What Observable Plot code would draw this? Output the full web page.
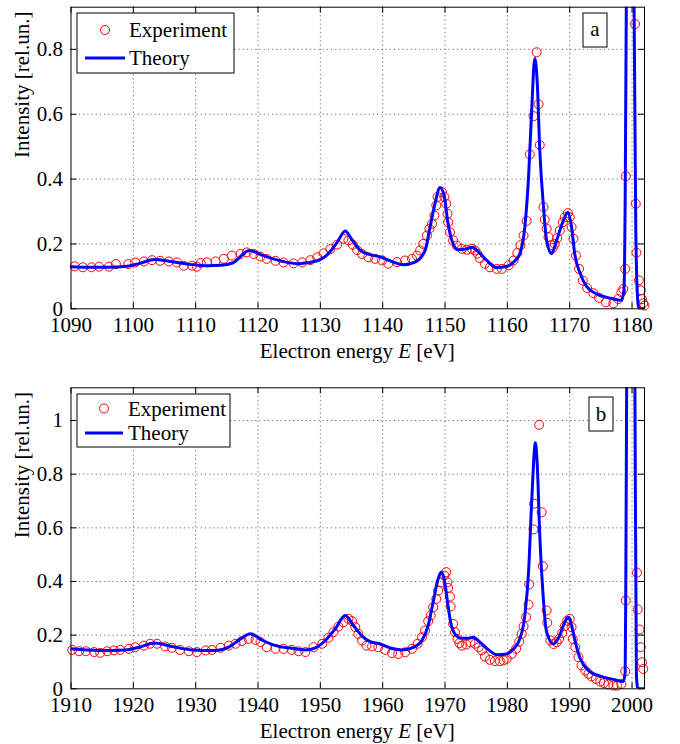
<!DOCTYPE html>
<html>
<head>
<meta charset="utf-8">
<script src="https://cdn.jsdelivr.net/npm/d3@7"></script>
<script src="https://cdn.jsdelivr.net/npm/@observablehq/plot@0.6"></script>
<style>
  body { margin: 0; background: #fff; }
  #chart svg { display: block; }
  #chart svg, #chart svg text, #chart svg tspan { font-family: "Liberation Serif", "DejaVu Serif", serif !important; }
</style>
</head>
<body>
<div id="chart"></div>
<script>
// ---------------- Panel a data ----------------
const aTheoryE = [1090, 1093, 1096, 1099, 1101, 1103.4, 1106, 1109, 1112, 1114, 1116, 1118.6, 1121, 1124, 1126.5, 1129.5, 1131.3, 1132.7, 1134, 1135, 1136.4, 1138, 1139.6, 1141.7, 1143.3, 1145.2, 1146.8, 1147.6, 1148.4, 1149.2, 1149.9, 1150.4, 1151.1, 1152.1, 1153.5, 1154.3, 1155.4, 1156.7, 1158.3, 1159.9, 1161, 1162, 1162.8, 1163.4, 1163.9, 1164.4, 1164.8, 1165.2, 1165.8, 1166.3, 1167.1, 1167.9, 1169, 1169.7, 1170.3, 1170.8, 1171.7, 1172.7, 1174.3, 1176.5, 1178.3, 1178.7, 1178.9, 1179.1, 1179.7, 1180.3, 1180.6, 1180.9, 1181.1, 1182];
const aTheoryI = [0.130, 0.128, 0.128, 0.131, 0.140, 0.152, 0.146, 0.137, 0.133, 0.134, 0.142, 0.180, 0.163, 0.146, 0.139, 0.148, 0.170, 0.205, 0.240, 0.215, 0.180, 0.167, 0.160, 0.144, 0.136, 0.144, 0.180, 0.252, 0.325, 0.374, 0.345, 0.273, 0.211, 0.182, 0.185, 0.190, 0.175, 0.149, 0.127, 0.131, 0.144, 0.170, 0.252, 0.406, 0.612, 0.772, 0.695, 0.489, 0.314, 0.211, 0.170, 0.211, 0.273, 0.298, 0.252, 0.170, 0.108, 0.069, 0.046, 0.033, 0.026, 0.057, 0.335, 1.0, 4.0, 1.0, 0.25, 0.03, 0.0, 0.0];

const aExpE = [1090.6, 1091.9, 1093.3, 1094.5, 1096.1, 1097.2, 1099.2, 1100.3, 1101.7, 1103.0, 1104.3, 1105.7, 1107.0, 1108.1, 1109.4, 1110.2, 1110.8, 1111.8, 1113.2, 1114.5, 1115.8, 1117.2, 1118.2, 1119.3, 1120.4, 1121.4, 1122.8, 1124.1, 1125.7, 1127.1, 1128.4, 1129.5, 1130.5, 1131.6, 1132.7, 1133.7, 1134.5, 1135.2, 1135.9, 1136.7, 1137.7, 1138.8, 1139.9, 1140.9, 1142.3, 1143.6, 1144.7, 1145.5, 1146.0, 1146.5, 1147.1, 1147.5, 1147.9, 1148.3, 1148.6, 1148.8, 1149.5, 1149.9, 1150.2, 1150.4, 1150.5, 1150.8, 1151.3, 1151.9, 1152.7, 1153.5, 1154.3, 1154.8, 1155.2, 1155.6, 1156.4, 1157.2, 1158.3, 1159.1, 1160.2, 1161.0, 1161.6, 1162.1, 1162.6, 1163.1, 1163.6, 1164.2, 1164.7, 1165.0, 1165.2, 1165.8, 1166.0, 1166.3, 1166.6, 1167.0, 1167.3, 1167.6, 1168.0, 1168.4, 1168.9, 1169.2, 1169.7, 1170.0, 1170.3, 1170.6, 1171.0, 1171.5, 1172.1, 1172.8, 1173.8, 1174.7, 1175.8, 1177.0, 1177.8, 1178.3, 1178.6, 1178.9, 1179.0, 1180.5, 1180.6, 1180.7, 1181.1, 1181.4, 1181.6, 1181.8, 1182.0];
const aExpI = [0.131, 0.128, 0.128, 0.130, 0.130, 0.138, 0.138, 0.143, 0.146, 0.150, 0.148, 0.146, 0.143, 0.133, 0.133, 0.130, 0.141, 0.143, 0.146, 0.154, 0.164, 0.169, 0.174, 0.169, 0.161, 0.154, 0.148, 0.143, 0.140, 0.143, 0.150, 0.159, 0.171, 0.184, 0.198, 0.216, 0.211, 0.198, 0.181, 0.169, 0.159, 0.154, 0.149, 0.139, 0.144, 0.149, 0.154, 0.164, 0.180, 0.200, 0.226, 0.247, 0.262, 0.288, 0.319, 0.345, 0.360, 0.345, 0.324, 0.293, 0.267, 0.236, 0.211, 0.195, 0.185, 0.182, 0.185, 0.180, 0.170, 0.156, 0.139, 0.128, 0.123, 0.123, 0.134, 0.149, 0.172, 0.196, 0.226, 0.271, 0.476, 0.594, 0.791, 0.631, 0.505, 0.314, 0.275, 0.247, 0.221, 0.196, 0.188, 0.200, 0.218, 0.241, 0.267, 0.282, 0.295, 0.282, 0.252, 0.216, 0.164, 0.123, 0.087, 0.064, 0.048, 0.034, 0.020, 0.017, 0.030, 0.051, 0.061, 0.123, 0.409, 0.878, 0.324, 0.173, 0.088, 0.057, 0.030, 0.017, 0.010];

const aXTicks = [1090, 1100, 1110, 1120, 1130, 1140, 1150, 1160, 1170, 1180];
const aYTicks = [0, 0.2, 0.4, 0.6, 0.8];

// ---------------- Panel b data ----------------
const bTheoryE = [1910, 1914.5, 1918.7, 1920.9, 1923.4, 1926.2, 1929.4, 1933.2, 1935.3, 1937.2, 1938.8, 1940.6, 1942.8, 1945.4, 1947.6, 1949.2, 1950.8, 1952.4, 1954.0, 1955.3, 1956.9, 1958.0, 1959.6, 1961.2, 1963.1, 1964.9, 1966.3, 1967.3, 1968.1, 1968.9, 1969.4, 1969.9, 1970.4, 1970.9, 1971.6, 1972.7, 1973.7, 1974.5, 1975.6, 1977.0, 1978.3, 1979.9, 1981.0, 1982.0, 1982.8, 1983.4, 1983.9, 1984.5, 1984.8, 1985.2, 1985.7, 1986.3, 1987.4, 1988.4, 1989.2, 1989.8, 1990.3, 1990.9, 1991.7, 1993.0, 1994.9, 1997.0, 1998.6, 1998.9, 1999.0, 1999.15, 1999.8, 2000.45, 2000.7, 2000.95, 2002];
const bTheoryI = [0.149, 0.143, 0.145, 0.155, 0.171, 0.158, 0.145, 0.143, 0.155, 0.186, 0.205, 0.182, 0.161, 0.151, 0.145, 0.153, 0.180, 0.224, 0.273, 0.236, 0.192, 0.176, 0.167, 0.152, 0.145, 0.154, 0.180, 0.236, 0.323, 0.410, 0.435, 0.404, 0.323, 0.249, 0.204, 0.188, 0.188, 0.192, 0.174, 0.145, 0.127, 0.130, 0.149, 0.186, 0.273, 0.435, 0.696, 0.917, 0.832, 0.572, 0.360, 0.211, 0.167, 0.199, 0.248, 0.267, 0.236, 0.174, 0.112, 0.068, 0.047, 0.035, 0.027, 0.062, 0.385, 1.2, 5.0, 1.2, 0.05, 0.0, 0.0];

const bExpE = [1910.2, 1911.3, 1912.4, 1913.7, 1914.7, 1915.8, 1916.9, 1917.9, 1919.3, 1920.3, 1921.7, 1922.7, 1923.8, 1925.1, 1926.2, 1927.5, 1928.9, 1930.2, 1931.6, 1932.6, 1934.0, 1935.3, 1936.4, 1937.4, 1938.5, 1939.6, 1940.4, 1941.4, 1942.8, 1944.1, 1945.4, 1946.5, 1947.6, 1948.9, 1950.3, 1951.3, 1952.1, 1952.9, 1953.7, 1954.5, 1955.1, 1955.6, 1956.1, 1956.7, 1957.4, 1958.3, 1959.3, 1960.4, 1961.5, 1962.5, 1963.6, 1964.7, 1965.6, 1966.3, 1966.8, 1967.3, 1967.7, 1968.1, 1968.6, 1968.9, 1969.3, 1969.9, 1970.2, 1970.4, 1970.5, 1970.8, 1970.9, 1971.3, 1971.6, 1972.0, 1972.3, 1972.7, 1973.4, 1974.1, 1974.8, 1975.4, 1975.9, 1976.4, 1977.2, 1978.0, 1978.8, 1979.4, 1979.9, 1980.7, 1981.4, 1981.9, 1982.3, 1982.6, 1983.0, 1983.4, 1983.5, 1984.2, 1984.3, 1985.1, 1985.5, 1985.7, 1986.3, 1986.4, 1986.9, 1987.4, 1987.9, 1988.3, 1988.8, 1989.2, 1989.6, 1990.0, 1990.3, 1990.5, 1990.9, 1991.4, 1991.9, 1992.5, 1993.0, 1993.5, 1994.2, 1994.9, 1995.5, 1996.2, 1997.0, 1997.6, 1998.3, 1998.9, 1999.0, 2000.8, 2000.9, 2001.2, 2001.4, 2001.6, 2001.8];
const bExpI = [0.145, 0.140, 0.140, 0.137, 0.134, 0.140, 0.143, 0.145, 0.149, 0.155, 0.161, 0.168, 0.168, 0.158, 0.153, 0.145, 0.140, 0.137, 0.143, 0.145, 0.153, 0.161, 0.168, 0.178, 0.186, 0.182, 0.174, 0.155, 0.149, 0.149, 0.145, 0.140, 0.137, 0.155, 0.168, 0.190, 0.211, 0.232, 0.248, 0.261, 0.252, 0.230, 0.205, 0.180, 0.161, 0.158, 0.155, 0.145, 0.133, 0.130, 0.136, 0.149, 0.168, 0.192, 0.217, 0.252, 0.273, 0.304, 0.335, 0.366, 0.397, 0.422, 0.435, 0.397, 0.376, 0.344, 0.307, 0.242, 0.211, 0.186, 0.170, 0.161, 0.165, 0.174, 0.168, 0.155, 0.143, 0.120, 0.108, 0.103, 0.103, 0.106, 0.112, 0.130, 0.149, 0.176, 0.205, 0.233, 0.267, 0.314, 0.389, 0.594, 0.690, 0.984, 0.658, 0.457, 0.292, 0.246, 0.180, 0.167, 0.174, 0.186, 0.208, 0.233, 0.254, 0.261, 0.230, 0.186, 0.155, 0.118, 0.087, 0.068, 0.056, 0.046, 0.037, 0.027, 0.021, 0.016, 0.012, 0.012, 0.018, 0.065, 0.329, 0.433, 0.296, 0.221, 0.155, 0.099, 0.074];

const bXTicks = [1910, 1920, 1930, 1940, 1950, 1960, 1970, 1980, 1990, 2000];
const bYTicks = [0, 0.2, 0.4, 0.6, 0.8, 1];

const seriesNames = ["Experiment", "Theory"];
const yTitle = "Intensity [rel.un.]";

// ---------------- drawing ----------------
const FONT = "Liberation Serif, DejaVu Serif, serif";
const FS = 21;
const W = 680, H = 372;
const ML = 70.5, MR = 36;

function panel(cfg) {
  const theory = cfg.tE.map((e, i) => ({E: e, I: cfg.tI[i]}));
  const exp = cfg.eE.map((e, i) => ({E: e, I: cfg.eI[i]}));
  const plotH = H - cfg.mt - cfg.mb;
  const plotW = W - ML - MR;
  const tick = 6;
  const fmt = d => String(d);
  const grid = {stroke: "#6a6a6a", strokeOpacity: 1, strokeWidth: 1, strokeDasharray: "1.2,3"};
  const p = Plot.plot({
    width: W, height: H,
    marginLeft: ML, marginRight: MR, marginTop: cfg.mt, marginBottom: cfg.mb,
    style: {fontFamily: FONT, fontSize: FS + "px", color: "black", background: "white", overflow: "visible"},
    x: {domain: cfg.xDomain},
    y: {domain: cfg.yDomain},
    marks: [
      Plot.gridX(cfg.xTicks.slice(1), grid),
      Plot.gridY(cfg.yTicks.slice(1), grid),
      Plot.axisX(cfg.xTicks, {tickSize: 0, tickPadding: 8, label: null, tickFormat: fmt, fontSize: FS}),
      Plot.axisY(cfg.yTicks, {tickSize: 0, tickPadding: 8, label: null, tickFormat: fmt, fontSize: FS}),
      Plot.tickX(cfg.xTicks, {x: d => d, insetTop: plotH - tick, stroke: "black"}),
      Plot.tickX(cfg.xTicks, {x: d => d, insetBottom: plotH - tick, stroke: "black"}),
      Plot.tickY(cfg.yTicks, {y: d => d, insetRight: plotW - tick, stroke: "black"}),
      Plot.tickY(cfg.yTicks, {y: d => d, insetLeft: plotW - tick, stroke: "black"}),
      Plot.dot(exp, {x: "E", y: "I", r: 4.5, stroke: "#ff0000", strokeWidth: 1, fill: "none"}),
      Plot.line(theory, {x: "E", y: "I", stroke: "#0000ff", strokeWidth: 3, curve: "monotone-x", clip: true}),
      Plot.frame({stroke: "black", strokeWidth: 1}),
      Plot.text([yTitle], {frameAnchor: "left", rotate: -90, dx: -48.5, fontSize: FS, fill: "black"})
    ]
  });
  const svg = d3.select(p);
  // x-axis title with italic E
  const t = svg.append("text")
    .attr("x", ML + plotW / 2).attr("y", H - cfg.mb + 49.5)
    .attr("text-anchor", "middle").attr("font-size", FS).attr("fill", "black");
  t.append("tspan").text("Electron energy ");
  t.append("tspan").attr("font-style", "italic").text("E");
  t.append("tspan").text(" [eV]");
  // legend
  const L = cfg.legend;
  const lg = svg.append("g").attr("font-size", FS).attr("text-anchor", "start");
  lg.append("rect").attr("x", L.x).attr("y", L.y).attr("width", L.w).attr("height", L.h)
    .attr("fill", "white").attr("stroke", "black").attr("stroke-width", 1);
  lg.append("circle").attr("cx", L.cx).attr("cy", L.y1).attr("r", 4.5)
    .attr("fill", "none").attr("stroke", "#ff0000").attr("stroke-width", 1);
  lg.append("line").attr("x1", L.lx1).attr("x2", L.lx2).attr("y1", L.y2).attr("y2", L.y2)
    .attr("stroke", "#0000ff").attr("stroke-width", 3);
  lg.append("text").attr("x", L.tx).attr("y", L.y1 + 7).attr("text-anchor", "start").attr("fill", "black").text(seriesNames[0]);
  lg.append("text").attr("x", L.tx).attr("y", L.y2 + 7).attr("text-anchor", "start").attr("fill", "black").text(seriesNames[1]);
  // panel letter
  const B = cfg.box;
  svg.append("rect").attr("x", B.x).attr("y", B.y).attr("width", B.w).attr("height", B.h)
    .attr("fill", "white").attr("stroke", "black").attr("stroke-width", 1);
  svg.append("text").attr("x", B.x + B.w / 2).attr("y", B.by).attr("text-anchor", "middle")
    .attr("font-size", FS).attr("fill", "black").text(cfg.letter);
  return p;
}

const chart = document.getElementById("chart");
chart.appendChild(panel({
  tE: aTheoryE, tI: aTheoryI, eE: aExpE, eI: aExpI,
  xDomain: [1090, 1182], yDomain: [0, 0.93], xTicks: aXTicks, yTicks: aYTicks,
  mt: 6.7, mb: 63.7,
  legend: {x: 77, y: 13, w: 157, h: 60, cx: 105, lx1: 85, lx2: 125, tx: 129, y1: 30, y2: 58},
  box: {x: 583, y: 13, w: 24, h: 34, by: 36}, letter: "a"
}));
chart.appendChild(panel({
  tE: bTheoryE, tI: bTheoryI, eE: bExpE, eI: bExpI,
  xDomain: [1910, 2002], yDomain: [0, 1.122], xTicks: bXTicks, yTicks: bYTicks,
  mt: 15.3, mb: 55.7,
  legend: {x: 77, y: 22, w: 153, h: 53, cx: 104, lx1: 85, lx2: 123, tx: 128, y1: 36.5, y2: 61},
  box: {x: 589, y: 25, w: 24, h: 34, by: 49}, letter: "b"
}));
</script>
</body>
</html>
